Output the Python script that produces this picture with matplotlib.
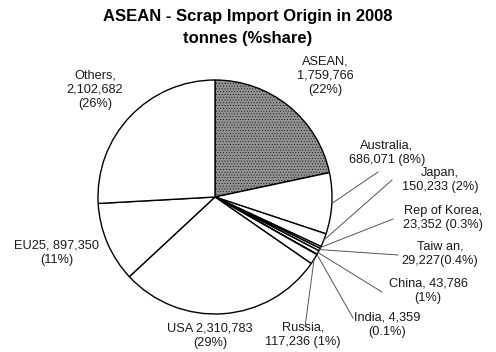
import numpy as np
import matplotlib.pyplot as plt

plt.rcParams['font.family'] = ['Liberation Sans', 'DejaVu Sans']
plt.rcParams['hatch.color'] = '#7c7c7c'
plt.rcParams['hatch.linewidth'] = 0.3

# data
origins = ['ASEAN', 'Australia', 'Japan', 'Rep of Korea', 'Taiwan', 'China',
           'India', 'Russia', 'USA', 'EU25', 'Others']
tonnes = [1759766, 686071, 150233, 23352, 29227, 43786,
          4359, 117236, 2310783, 897350, 2102682]
labels = ['ASEAN,\n1,759,766\n(22%)', 'Australia,\n686,071 (8%)', 'Japan,\n150,233 (2%)',
          'Rep of Korea,\n23,352 (0.3%)', 'Taiw an,\n29,227(0.4%)', 'China, 43,786\n(1%)',
          'India, 4,359\n(0.1%)', 'Russia,\n117,236 (1%)', 'USA 2,310,783\n(29%)',
          'EU25, 897,350\n(11%)', 'Others,\n2,102,682\n(26%)']

# label centres in pixel coords (from top-left), and where the leader line starts
label_pos = [(325, 76), (387, 153), (440, 180), (443, 218), (440, 254), (428, 291),
             (387, 325), (303, 335), (210, 336), (57, 253), (95, 90)]
leader_start = [None, (378, 172), (392, 180), (393, 219), (398, 255), (382, 292),
                (353, 318), (305, 327), None, None, None]

W, H = 496, 352
fig = plt.figure(figsize=(4.96, 3.52), dpi=100)
ax = fig.add_axes([0, 0, 1, 1])

cx, cy, r = 215, H - 197, 117
colors = ['#929292'] + ['white'] * (len(tonnes) - 1)
wedges, _ = ax.pie(tonnes, colors=colors, startangle=90, counterclock=False,
                   center=(cx, cy), radius=r, frame=True,
                   wedgeprops=dict(edgecolor='black', linewidth=1.0))
wedges[0].set_hatch('......')
ax.set_xlim(0, W)
ax.set_ylim(0, H)
ax.set_aspect('auto')
ax.axis('off')

for w, lab, (px, py), st in zip(wedges, labels, label_pos, leader_start):
    ax.text(px, H - py, lab, ha='center', va='center', fontsize=9.2,
            linespacing=1.25, color='#1a1a1a')
    if st is not None:
        mid = np.deg2rad((w.theta1 + w.theta2) / 2)
        ex, ey = cx + r * np.cos(mid), cy + r * np.sin(mid)
        ax.plot([st[0], ex], [H - st[1], ey], color='#555555', linewidth=0.7)

fig.text(0.5, 1 - 17 / H, 'ASEAN - Scrap Import Origin in 2008', ha='center', va='center',
         fontsize=12, fontweight='bold')
fig.text(0.5, 1 - 38 / H, 'tonnes (%share)', ha='center', va='center',
         fontsize=12, fontweight='bold')

fig.savefig('out.png', dpi=100, facecolor='white')
